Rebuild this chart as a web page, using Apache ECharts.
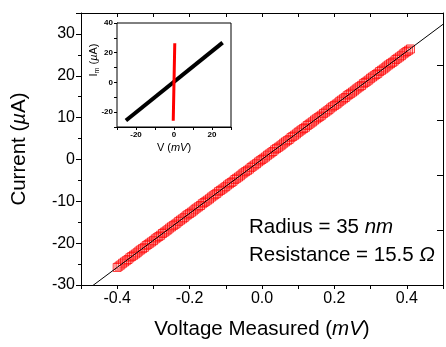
<!DOCTYPE html>
<html>
<head>
<meta charset="utf-8">
<script src="https://cdn.jsdelivr.net/npm/echarts@6/dist/echarts.min.js"></script>
<style>html,body{margin:0;padding:0;background:#fff}#c{width:446px;height:347px}</style>
</head>
<body>
<div id="c"></div>
<script>
// Measured data (mV, µA)
var measV = [-0.400,-0.395,-0.390,-0.385,-0.380,-0.375,-0.370,-0.365,-0.360,-0.355,-0.350,-0.345,-0.340,-0.335,-0.330,-0.325,-0.320,-0.315,-0.310,-0.305,-0.300,-0.295,-0.290,-0.285,-0.280,-0.275,-0.270,-0.265,-0.260,-0.255,-0.250,-0.245,-0.240,-0.235,-0.230,-0.225,-0.220,-0.215,-0.210,-0.205,-0.200,-0.195,-0.190,-0.185,-0.180,-0.175,-0.170,-0.165,-0.160,-0.155,-0.150,-0.145,-0.140,-0.135,-0.130,-0.125,-0.120,-0.115,-0.110,-0.105,-0.100,-0.095,-0.090,-0.085,-0.080,-0.075,-0.070,-0.065,-0.060,-0.055,-0.050,-0.045,-0.040,-0.035,-0.030,-0.025,-0.020,-0.015,-0.010,-0.005,0.000,0.005,0.010,0.015,0.020,0.025,0.030,0.035,0.040,0.045,0.050,0.055,0.060,0.065,0.070,0.075,0.080,0.085,0.090,0.095,0.100,0.105,0.110,0.115,0.120,0.125,0.130,0.135,0.140,0.145,0.150,0.155,0.160,0.165,0.170,0.175,0.180,0.185,0.190,0.195,0.200,0.205,0.210,0.215,0.220,0.225,0.230,0.235,0.240,0.245,0.250,0.255,0.260,0.265,0.270,0.275,0.280,0.285,0.290,0.295,0.300,0.305,0.310,0.315,0.320,0.325,0.330,0.335,0.340,0.345,0.350,0.355,0.360,0.365,0.370,0.375,0.380,0.385,0.390,0.395,0.400,0.405,0.410];
var measI = [-25.8,-25.5,-25.2,-24.8,-24.5,-24.2,-23.9,-23.5,-23.2,-22.9,-22.6,-22.3,-21.9,-21.6,-21.3,-21.0,-20.6,-20.3,-20.0,-19.7,-19.4,-19.0,-18.7,-18.4,-18.1,-17.7,-17.4,-17.1,-16.8,-16.4,-16.1,-15.8,-15.5,-15.2,-14.8,-14.5,-14.2,-13.9,-13.5,-13.2,-12.9,-12.6,-12.3,-11.9,-11.6,-11.3,-11.0,-10.6,-10.3,-10.0,-9.7,-9.4,-9.0,-8.7,-8.4,-8.1,-7.7,-7.4,-7.1,-6.8,-6.5,-6.1,-5.8,-5.5,-5.2,-4.8,-4.5,-4.2,-3.9,-3.5,-3.2,-2.9,-2.6,-2.3,-1.9,-1.6,-1.3,-1.0,-0.6,-0.3,0.0,0.3,0.6,1.0,1.3,1.6,1.9,2.3,2.6,2.9,3.2,3.5,3.9,4.2,4.5,4.8,5.2,5.5,5.8,6.1,6.5,6.8,7.1,7.4,7.7,8.1,8.4,8.7,9.0,9.4,9.7,10.0,10.3,10.6,11.0,11.3,11.6,11.9,12.3,12.6,12.9,13.2,13.5,13.9,14.2,14.5,14.8,15.2,15.5,15.8,16.1,16.4,16.8,17.1,17.4,17.7,18.1,18.4,18.7,19.0,19.4,19.7,20.0,20.3,20.6,21.0,21.3,21.6,21.9,22.3,22.6,22.9,23.2,23.5,23.9,24.2,24.5,24.8,25.2,25.5,25.8,26.1,26.4];
// Linear fit line endpoints
var fitV = [-0.47, 0.50];
var fitI = [-30.3, 32.3];
// Inset: applied voltage curve (mV, µA)
var appliedV = [-25.3, 25.6];
var appliedI = [-25.6, 26.8];
// Tick labels
var mainXTicks = [-0.4, -0.2, 0.0, 0.2, 0.4];
var mainYTicks = [-30, -20, -10, 0, 10, 20, 30];
var insetXTicks = [-20, 0, 20];
var insetYTicks = [-20, 0, 20, 40];

function zip(a, b) { return a.map(function (v, i) { return [v, b[i]]; }); }
function inList(list, v) { return list.some(function (t) { return Math.abs(t - v) < 1e-6; }); }

var chart = echarts.init(document.getElementById('c'), null, {renderer: 'canvas'});
var FONT = 'Liberation Sans, Arial, sans-serif';
var black = '#000';

chart.setOption({
  animation: false,
  backgroundColor: '#fff',
  textStyle: {fontFamily: FONT, color: black},
  grid: [
    {left: 81, top: 13, width: 368.5, height: 272, show: false},
    {left: 117, top: 23, width: 114, height: 104, show: true, backgroundColor: '#fff', borderColor: black, borderWidth: 1, z: 5}
  ],
  xAxis: [
    {gridIndex: 0, type: 'value', position: 'bottom', min: -0.5, max: 0.5, interval: 0.1,
     axisLine: {show: true, onZero: false, lineStyle: {color: black, width: 1}},
     axisTick: {show: true, inside: false, length: 4, lineStyle: {color: black}},
     splitLine: {show: false},
     axisLabel: {fontSize: 16, color: black, margin: 6, fontFamily: FONT,
       formatter: function (v) { return inList(mainXTicks, v) ? v.toFixed(1) : ''; }},
     name: '{n|Voltage Measured (}{i|mV}{n|)}', nameLocation: 'middle', nameGap: 34,
     nameTextStyle: {rich: {n: {fontSize: 20.5, fontFamily: FONT, color: black}, i: {fontSize: 20.5, fontStyle: 'italic', fontFamily: FONT, color: black}}}
    },
    {gridIndex: 0, type: 'value', position: 'top', min: -0.5, max: 0.5, interval: 0.1,
     axisLine: {show: true, onZero: false, lineStyle: {color: black, width: 1}},
     axisTick: {show: true, inside: true, length: 4, lineStyle: {color: black}},
     splitLine: {show: false}, axisLabel: {show: false}
    },
    {gridIndex: 1, type: 'value', position: 'bottom', min: -30, max: 30, interval: 10,
     axisLine: {show: true, onZero: false, lineStyle: {color: black, width: 1}},
     axisTick: {show: true, inside: false, length: 3, lineStyle: {color: black}},
     splitLine: {show: false},
     axisLabel: {fontSize: 8, fontWeight: 'bold', color: black, margin: 4, fontFamily: FONT,
       formatter: function (v) { return inList(insetXTicks, v) ? String(v) : ''; }},
     name: '{n|V (}{i|mV}{n|)}', nameLocation: 'middle', nameGap: 15,
     nameTextStyle: {rich: {n: {fontSize: 11, fontFamily: FONT, color: black}, i: {fontSize: 11, fontStyle: 'italic', fontFamily: FONT, color: black}}}
    }
  ],
  yAxis: [
    {gridIndex: 0, type: 'value', position: 'left', min: -30, max: 35, interval: 10,
     axisLine: {show: true, onZero: false, lineStyle: {color: black, width: 1}},
     axisTick: {show: true, inside: false, length: 5, lineStyle: {color: black}},
     minorTick: {show: true, splitNumber: 2, length: 3, lineStyle: {color: black}},
     splitLine: {show: false}, minorSplitLine: {show: false},
     axisLabel: {fontSize: 16, color: black, margin: 6, fontFamily: FONT, showMaxLabel: false,
       formatter: function (v) { return inList(mainYTicks, v) ? String(v) : ''; }},
     name: '{n|Current (}{i|µ}{n|A)}', nameLocation: 'middle', nameGap: 51, nameRotate: 90,
     nameTextStyle: {rich: {n: {fontSize: 20.5, fontFamily: FONT, color: black}, i: {fontSize: 20.5, fontStyle: 'italic', fontFamily: FONT, color: black}}}
    },
    {gridIndex: 0, type: 'value', position: 'right', min: 0, max: 4.95, interval: 1,
     axisLine: {show: true, onZero: false, lineStyle: {color: black, width: 1}},
     axisTick: {show: true, inside: true, length: 6, lineStyle: {color: black}},
     splitLine: {show: false}, axisLabel: {show: false}
    },
    {gridIndex: 1, type: 'value', position: 'left', min: -30, max: 40, interval: 10,
     axisLine: {show: true, onZero: false, lineStyle: {color: black, width: 1}},
     axisTick: {show: true, inside: false, length: 3, lineStyle: {color: black}},
     splitLine: {show: false},
     axisLabel: {fontSize: 8, fontWeight: 'bold', color: black, margin: 4, fontFamily: FONT,
       formatter: function (v) { return inList(insetYTicks, v) ? String(v) : ''; }}
    }
  ],
  series: [
    {type: 'scatter', xAxisIndex: 0, yAxisIndex: 0, data: zip(measV, measI),
     symbol: 'rect', symbolSize: 8, z: 2,
     itemStyle: {color: 'rgba(0,0,0,0)', borderColor: '#ff0000', borderWidth: 1}},
    {type: 'line', xAxisIndex: 0, yAxisIndex: 0, data: zip(fitV, fitI), symbol: 'none', clip: true, z: 3,
     lineStyle: {color: black, width: 1}},
    {type: 'line', xAxisIndex: 2, yAxisIndex: 2, data: zip(appliedV, appliedI), symbol: 'none', z: 6,
     lineStyle: {color: black, width: 4}},
    {type: 'line', xAxisIndex: 2, yAxisIndex: 2, data: zip(measV, measI), symbol: 'none', z: 7,
     lineStyle: {color: '#ff0000', width: 3}}
  ],
  graphic: [
    {type: 'text', x: 249, y: 227, z: 10, style: {
      text: '{n|Radius = 35 }{i|nm}', verticalAlign: 'middle', align: 'left',
      rich: {n: {fontSize: 20.5, fontFamily: FONT, fill: black}, i: {fontSize: 20.5, fontStyle: 'italic', fontFamily: FONT, fill: black}}}},
    {type: 'text', x: 249, y: 255, z: 10, style: {
      text: '{n|Resistance = 15.5 }{i|Ω}', verticalAlign: 'middle', align: 'left',
      rich: {n: {fontSize: 20.5, fontFamily: FONT, fill: black}, i: {fontSize: 20.5, fontStyle: 'italic', fontFamily: FONT, fill: black}}}},
    {type: 'text', x: 94, y: 60, rotation: Math.PI / 2, z: 10, style: {
      text: '{n|I}{s|m}{n| (}{i|µ}{n|A)}', verticalAlign: 'middle', align: 'center',
      rich: {n: {fontSize: 11, fontFamily: FONT, fill: black}, s: {fontSize: 7, fontFamily: FONT, fill: black, verticalAlign: 'bottom', padding: [6, 0, 0, 0]}, i: {fontSize: 11, fontStyle: 'italic', fontFamily: FONT, fill: black}}}}
  ]
});
</script>
</body>
</html>
